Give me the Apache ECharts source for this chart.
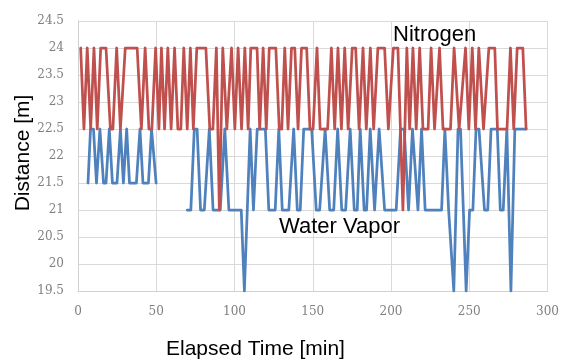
<!DOCTYPE html>
<html>
<head>
<meta charset="utf-8">
<script src="https://cdn.jsdelivr.net/npm/echarts@6/dist/echarts.min.js"></script>
<style>
  html, body { margin: 0; padding: 0; background: #fff; }
  #chart { width: 562px; height: 360px; }
</style>
</head>
<body>
<div id="chart"></div>
<script>
// nitrogen (red) - time [min] and distance [m]
const nitrogenTime = [
  1.7, 3.8, 5.9, 8.1, 10.2, 12.3, 14.5, 16.1, 17.9, 20.7, 22.3, 24.7, 27.1, 30.2, 32.7, 35.3, 37.8, 40.5, 42.9, 45.3,
  47.2, 49.6, 51.7, 53.3, 55.3, 57.4, 59.5, 61.7, 63.8, 65.7, 67.6, 69.8, 71.8, 73.7, 75.9, 77.9, 79.8, 81.7, 84.2, 86.2,
  88.4, 90.3, 92.5, 95.1, 98.1, 100.2, 102.3, 104.5, 106.6, 108.7, 110.4, 112.3, 114.4, 116.1, 118.3, 120.3, 122.2, 124.1, 126.4, 128.6,
  130.2, 132.1, 134.2, 136.4, 138.5, 140.6, 142.8, 144.5, 146.1, 148.2, 150.2, 152.7, 154.7, 157.0, 159.5, 161.9, 164.0, 166.1, 168.3, 170.4,
  172.6, 175.2, 177.4, 179.6, 182.1, 184.2, 186.8, 188.9, 191.6, 193.8, 195.9, 198.3, 201.5, 204.4, 207.6, 210.1, 211.9, 214.0, 216.1, 218.3,
  220.4, 222.1, 223.7, 225.6, 227.8, 231.0, 233.2, 235.5, 238.0, 240.3, 243.5, 247.6, 249.7, 251.9, 254.0, 256.1, 259.1, 262.5, 264.4, 266.3,
  268.0, 269.9, 271.9, 274.1, 276.3, 278.4, 280.6, 282.4, 284.2, 286.3
];
const nitrogenDist = [
  24, 22.5, 24, 22.5, 24, 22.5, 24, 24, 24, 22.5, 22.5, 24, 22.5, 24, 24, 24, 24, 22.5, 24, 22.5,
  22.5, 24, 22.5, 24, 22.5, 24, 22.5, 24, 22.5, 22.5, 24, 22.5, 24, 22.5, 24, 24, 24, 24, 22.5, 22.5,
  24, 21, 24, 22.5, 24, 22.5, 24, 22.5, 24, 22.5, 24, 24, 24, 22.5, 24, 22.5, 24, 24, 24, 22.5,
  22.5, 24, 22.5, 24, 24, 22.5, 24, 24, 24, 22.5, 22.5, 24, 22.5, 22.5, 22.5, 24, 22.5, 24, 22.5, 24,
  22.5, 24, 24, 22.5, 24, 22.5, 24, 22.5, 24, 24, 24, 22.5, 24, 24, 21, 24, 22.5, 24, 22.5, 24,
  22.5, 22.5, 22.5, 24, 22.5, 24, 22.5, 22.5, 22.5, 24, 22.5, 24, 22.5, 24, 22.5, 24, 22.5, 24, 24, 24,
  22.5, 22.5, 22.5, 22.5, 24, 22.5, 24, 24, 24, 22.5
];

// water vapor (blue) - '-' marks the break in the record
const vaporTime = [
  6.4, 8.0, 9.9, 11.8, 14.0, 16.3, 17.9, 20.0, 22.0, 24.9, 27.1, 29.0, 31.1, 32.9, 35.1, 37.3, 39.6, 41.5, 43.4, 45.0,
  47.0, 47.9, 49.9, 60.0,
  69.8, 72.1, 74.3, 76.1, 78.3, 80.7, 83.9, 86.3, 88.7, 90.9, 93.8, 96.4, 98.9, 101.5, 104.3, 106.3, 110.0, 112.1, 114.5, 117.1,
  119.7, 121.9, 124.1, 126.0, 128.3, 130.5, 132.4, 134.7, 137.8, 140.1, 142.0, 144.2, 146.8, 149.3, 152.2, 154.4, 157.9, 160.8, 163.4, 165.9,
  168.5, 171.0, 173.9, 176.5, 178.4, 180.3, 182.8, 184.4, 186.7, 189.5, 192.4, 195.9, 198.2, 200.7, 203.3, 206.1, 208.4, 211.2, 213.7, 217.2,
  219.5, 221.8, 224.0, 226.2, 228.5, 230.4, 232.3, 234.4, 236.8, 238.0, 240.1, 242.8, 244.4, 248.0, 250.2, 252.3, 254.3, 256.2, 259.7, 261.8,
  263.9, 265.8, 267.9, 269.8, 271.7, 274.0, 276.6, 279.1, 281.1, 283.3, 286.3
];
const vaporDist = [
  21.5, 22.5, 22.5, 21.5, 22.5, 21.5, 21.5, 22.5, 21.5, 21.5, 22.5, 21.5, 22.5, 21.5, 21.5, 21.5, 22.5, 21.5, 21.5, 21.5,
  22.5, 22.5, 21.5, '-',
  21, 21, 22.5, 22.5, 21, 21, 22.5, 21, 21, 21, 22.5, 21, 21, 21, 21, 19.5, 22.5, 21, 22.5, 22.5,
  22.5, 21, 21, 21, 22.5, 21, 21, 21, 22.5, 21, 21, 22.5, 22.5, 22.5, 21, 21, 22.5, 21, 21, 22.5,
  21, 21, 22.5, 21, 21, 22.5, 21, 21, 22.5, 21, 22.5, 21, 21, 21, 21, 22.5, 22.5, 21, 22.5, 21,
  22.5, 21, 21, 21, 21, 21, 21, 22.5, 21, 21, 19.5, 22.5, 22.5, 19.5, 21, 21, 22.5, 22.5, 21, 21,
  22.5, 22.5, 22.5, 21, 21, 22.5, 19.5, 22.5, 22.5, 22.5, 22.5
];

const xTitle = "Elapsed Time [min]";
const yTitle = "Distance [m]";

const chart = echarts.init(document.getElementById("chart"), null, { renderer: "canvas" });

const pairs = (xs, ys) => xs.map((x, i) => [x, ys[i]]);

const tickLabel = {
  color: "#808080",
  fontFamily: "'DejaVu Serif', 'Liberation Serif', serif",
  fontSize: 12,
};

const option = {
  backgroundColor: "#fff",
  animation: false,
  grid: {
    left: 78,
    right: 14,
    top: 21,
    bottom: 69,
  },
  xAxis: {
    type: "value",
    min: 0,
    max: 300,
    interval: 50,
    axisLine: { show: true, lineStyle: { color: "#d0d0d0", width: 1 } },
    axisTick: { show: false },
    axisLabel: { ...tickLabel, margin: 15 },
    splitLine: { show: true, lineStyle: { color: "#d9d9d9", width: 1 } },
  },
  yAxis: {
    type: "value",
    min: 19.5,
    max: 24.5,
    interval: 0.5,
    axisLine: { show: true, lineStyle: { color: "#d0d0d0", width: 1 } },
    axisTick: { show: false },
    axisLabel: { ...tickLabel, margin: 14 },
    splitLine: { show: true, lineStyle: { color: "#d9d9d9", width: 1 } },
  },
  series: [
    {
      name: "Water Vapor",
      type: "line",
      showSymbol: false,
      connectNulls: false,
      lineStyle: { color: "#4f81bd", width: 2.75, join: "round", cap: "round" },
      itemStyle: { color: "#4f81bd" },
      data: pairs(vaporTime, vaporDist),
      z: 2,
    },
    {
      name: "Nitrogen",
      type: "line",
      showSymbol: false,
      lineStyle: { color: "#c0504d", width: 2.75, join: "round", cap: "round" },
      itemStyle: { color: "#c0504d" },
      data: pairs(nitrogenTime, nitrogenDist),
      z: 3,
    },
  ],
  graphic: [
    {
      type: "text",
      x: 166,
      y: 349,
      style: {
        text: xTitle,
        fill: "#000",
        font: '21px "Liberation Sans", Arial, sans-serif',
        align: "left",
        verticalAlign: "middle",
      },
    },
    {
      type: "text",
      x: 23,
      y: 153,
      rotation: Math.PI / 2,
      style: {
        text: yTitle,
        fill: "#000",
        font: '21px "Liberation Sans", Arial, sans-serif',
        align: "center",
        verticalAlign: "middle",
      },
    },
    {
      type: "text",
      x: 393,
      y: 35,
      z: 10,
      style: {
        text: "Nitrogen",
        fill: "#000",
        font: '22px "Liberation Sans", Arial, sans-serif',
        align: "left",
        verticalAlign: "middle",
      },
    },
    {
      type: "text",
      x: 279,
      y: 227,
      z: 10,
      style: {
        text: "Water Vapor",
        fill: "#000",
        font: '22px "Liberation Sans", Arial, sans-serif',
        align: "left",
        verticalAlign: "middle",
      },
    },
  ],
};

chart.setOption(option);
</script>
</body>
</html>
